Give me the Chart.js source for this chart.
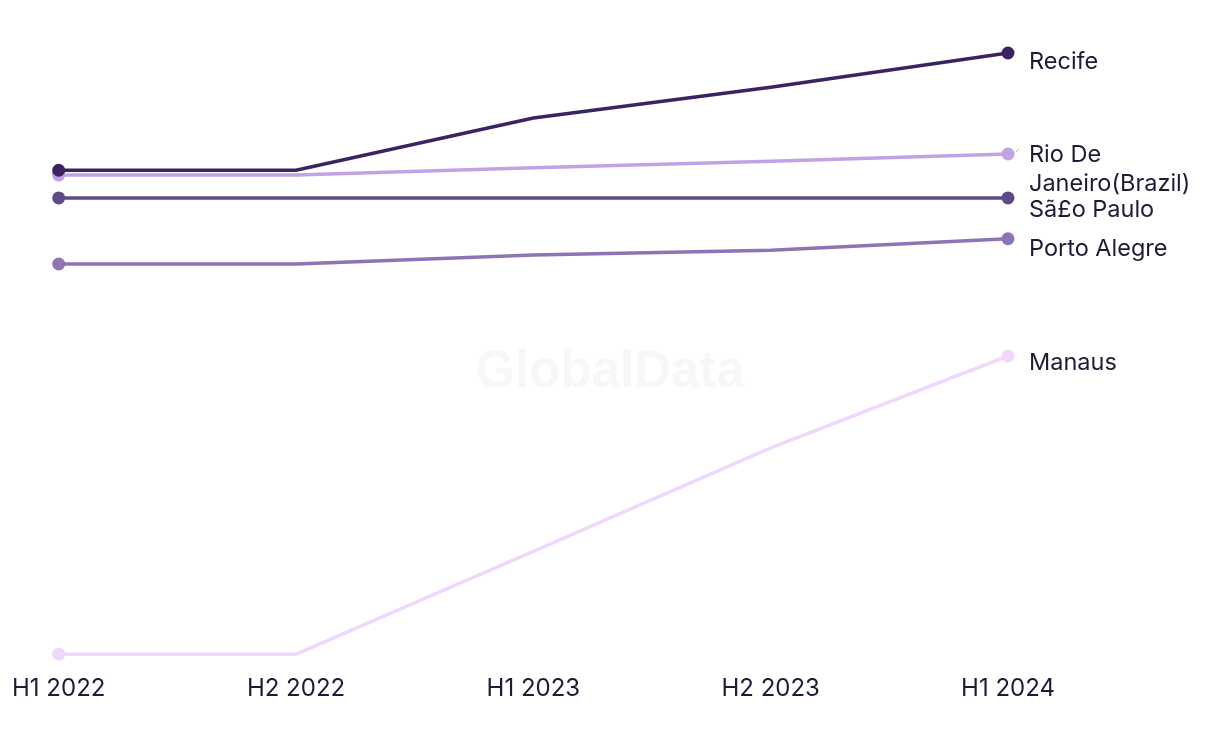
<!DOCTYPE html>
<html>
<head>
<meta charset="utf-8">
<script src="https://cdn.jsdelivr.net/npm/chart.js@4/dist/chart.umd.min.js"></script>
<style>
  html, body { margin: 0; padding: 0; background: #ffffff; }
</style>
</head>
<body>
<canvas id="chart" width="1220" height="744"></canvas>
<script>
const periods = ["H1 2022", "H2 2022", "H1 2023", "H2 2023", "H1 2024"];
const cities = ["Recife", "Rio De Janeiro(Brazil)", "Sã£o Paulo", "Porto Alegre", "Manaus"];

const recife = [80.5, 80.5, 89.2, 94.3, 100];
const rioDeJaneiro = [79.7, 79.7, 80.9, 82.0, 83.2];
const saoPaulo = [75.9, 75.9, 75.9, 75.9, 75.9];
const portoAlegre = [64.9, 64.9, 66.4, 67.2, 69.1];
const manaus = [0, 0, 17.1, 34.3, 49.6];

const seriesValues = [recife, rioDeJaneiro, saoPaulo, portoAlegre, manaus];
const colors = ["#3a2360", "#c1a3e3", "#5e4a85", "#8d74b3", "#efd8fc"];

// end labels: lines of text and a small vertical nudge so they don't collide
const endLabels = [["Recife"], ["Rio De", "Janeiro(Brazil)"], ["Sã£o Paulo"], ["Porto Alegre"], ["Manaus"]];
const labelNudge = [9, 1, 12, 10, 7];

// dots only on the first and last period
const dotRadius = periods.map((p, i) => (i === 0 || i === periods.length - 1 ? 6.5 : 0));

const datasets = cities.map((name, i) => ({
  label: name,
  data: seriesValues[i],
  borderColor: colors[i],
  backgroundColor: colors[i],
  borderWidth: 3.5,
  pointRadius: dotRadius,
  pointHoverRadius: dotRadius,
  pointBorderWidth: 0,
  tension: 0,
  clip: false,
  order: i === 0 ? 0 : i + 1,
}));

// faint watermark in the middle of the plot
const watermark = {
  id: "watermark",
  beforeDatasetsDraw(chart) {
    const ctx = chart.ctx;
    ctx.save();
    ctx.fillStyle = "#f7f7f7";
    ctx.font = "bold 51px 'Liberation Sans', Arial, sans-serif";
    ctx.textAlign = "center";
    ctx.textBaseline = "middle";
    ctx.fillText("GlobalData", 610, 373);
    ctx.restore();
  },
};

// labels to the right of the last point of each line
const endLabelPlugin = {
  id: "endLabels",
  afterDatasetsDraw(chart) {
    const ctx = chart.ctx;
    ctx.save();
    ctx.font = "23.5px Inter, 'Noto Sans', sans-serif";
    ctx.fillStyle = "#1d1b36";
    ctx.textAlign = "left";
    ctx.textBaseline = "middle";
    chart.data.datasets.forEach((ds, i) => {
      const meta = chart.getDatasetMeta(i);
      const pt = meta.data[meta.data.length - 1];
      const y = pt.y + labelNudge[i];
      endLabels[i].forEach((line, j) => {
        ctx.fillText(line, pt.x + 21, y + j * 29);
      });
      if (i === 1) {
        ctx.strokeStyle = ds.borderColor;
        ctx.lineWidth = 1;
        ctx.beginPath();
        ctx.moveTo(pt.x + 8, pt.y - 2);
        ctx.lineTo(pt.x + 11, pt.y - 5);
        ctx.stroke();
      }
    });
    ctx.restore();
  },
};

new Chart(document.getElementById("chart"), {
  type: "line",
  data: { labels: periods, datasets: datasets },
  options: {
    responsive: false,
    animation: false,
    devicePixelRatio: 1,
    layout: { padding: { left: 10, right: 212, top: 53, bottom: 29 } },
    plugins: { legend: { display: false }, tooltip: { enabled: false } },
    scales: {
      x: {
        offset: false,
        grid: { display: false },
        border: { display: false },
        ticks: {
          color: "#1d1b36",
          font: { family: "Inter, 'Noto Sans', sans-serif", size: 24 },
          padding: 12,
          maxRotation: 0,
          autoSkip: false,
        },
      },
      y: {
        display: false,
        min: 0,
        max: 100,
      },
    },
  },
  plugins: [watermark, endLabelPlugin],
});
</script>
</body>
</html>
